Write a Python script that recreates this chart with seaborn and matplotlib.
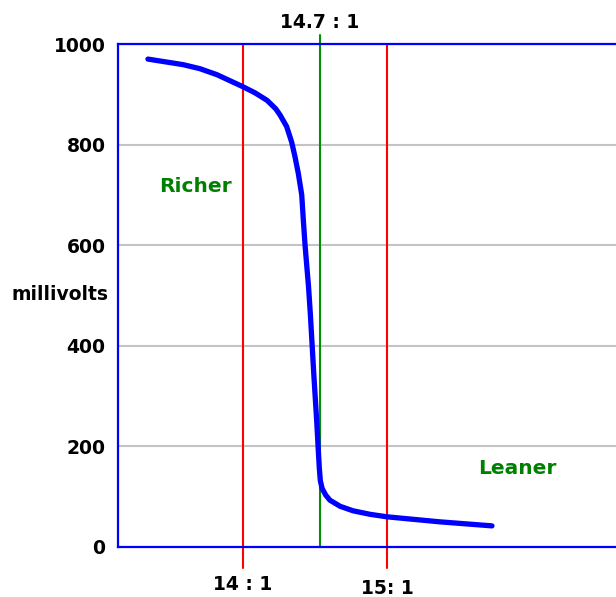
import matplotlib
matplotlib.use("Agg")
import matplotlib.pyplot as plt
import matplotlib.transforms as mtransforms
import pandas as pd
import seaborn as sns

# air/fuel ratio (chart position) vs sensor output (mV)
afr = [13.34, 13.583, 13.7, 13.819, 14.0, 14.083, 14.167, 14.228, 14.257, 14.303,
       14.338, 14.361, 14.384, 14.408, 14.419, 14.431, 14.442, 14.455, 14.468,
       14.480, 14.492, 14.5, 14.512, 14.523, 14.530, 14.537, 14.55, 14.575,
       14.604, 14.674, 14.764, 14.882, 15.0, 15.368, 15.729]
millivolts = [970, 959, 951, 939, 915, 903, 888, 871, 859, 836,
              805, 776, 743, 700, 650, 600, 562, 518, 462,
              402, 342, 305, 250, 192, 157, 132, 116, 103,
              93, 81, 72, 65, 60, 50, 42]

# reference ratio lines
ref_pos = [14.0, 14.535, 15.0]
ref_labels = ["14 : 1", "14.7 : 1", "15: 1"]
ref_colors = ["#ff0000", "#009000", "#ff0000"]

y_ticks = [0, 200, 400, 600, 800, 1000]

df = pd.DataFrame({"afr": afr, "mv": millivolts})

sns.set_style("white")
plt.rcParams["font.family"] = ["DejaVu Sans"]
plt.rcParams["font.weight"] = "bold"
plt.rcParams["text.color"] = "black"
plt.rcParams["ytick.color"] = "black"

fig = plt.figure(figsize=(6.16, 5.97), dpi=100)
ax = fig.add_axes([118 / 616, 50 / 597, 498 / 616, 503 / 597])
ax.set_xlim(13.132, 13.132 + 498 / 144)
ax.set_ylim(0, 1000)

ax.set_yticks(y_ticks)
ax.set_yticklabels([str(v) for v in y_ticks], fontsize=13.5, fontweight="bold",
                   color="black")
ax.set_xticks([])
ax.tick_params(axis="y", length=0, pad=9)
ax.yaxis.grid(True, color="#c4c4c4", lw=1.5)
ax.set_axisbelow(True)

for side in ["left", "top", "bottom"]:
    ax.spines[side].set_color("#0000ff")
    ax.spines[side].set_linewidth(1.6)
ax.spines["right"].set_visible(False)

trans = mtransforms.blended_transform_factory(ax.transData, ax.transAxes)
for pos, lab, col in zip(ref_pos, ref_labels, ref_colors):
    if col == "#009000":
        ax.axvline(pos, ymin=0, ymax=1.018, color=col, lw=1.5, clip_on=False, zorder=2)
        ax.text(pos, 1.042, lab, transform=trans, ha="center", va="center",
                fontsize=13.5, fontweight="bold", color="black")
    else:
        ax.axvline(pos, ymin=-0.042, ymax=1, color=col, lw=1.5, clip_on=False, zorder=2)
        dy = -0.0755 if lab.startswith("14") else -0.082
        ax.text(pos, dy, lab, transform=trans, ha="center", va="center",
                fontsize=13.5, fontweight="bold", color="black")

sns.lineplot(data=df, x="afr", y="mv", ax=ax, color="#0000ff", lw=3.8,
             sort=False, zorder=3)
ax.set_xlabel("")
ax.set_ylabel("")

ax.text(13.667, 716, "Richer", color="#008000", fontsize=14.5,
        fontweight="bold", ha="center", va="center")
ax.text(15.903, 157, "Leaner", color="#008000", fontsize=14.5,
        fontweight="bold", ha="center", va="center")

fig.text(60 / 616, 1 - 295 / 597, "millivolts", fontsize=13.5,
         fontweight="bold", ha="center", va="center", color="black")

fig.savefig("out.png", dpi=100)
